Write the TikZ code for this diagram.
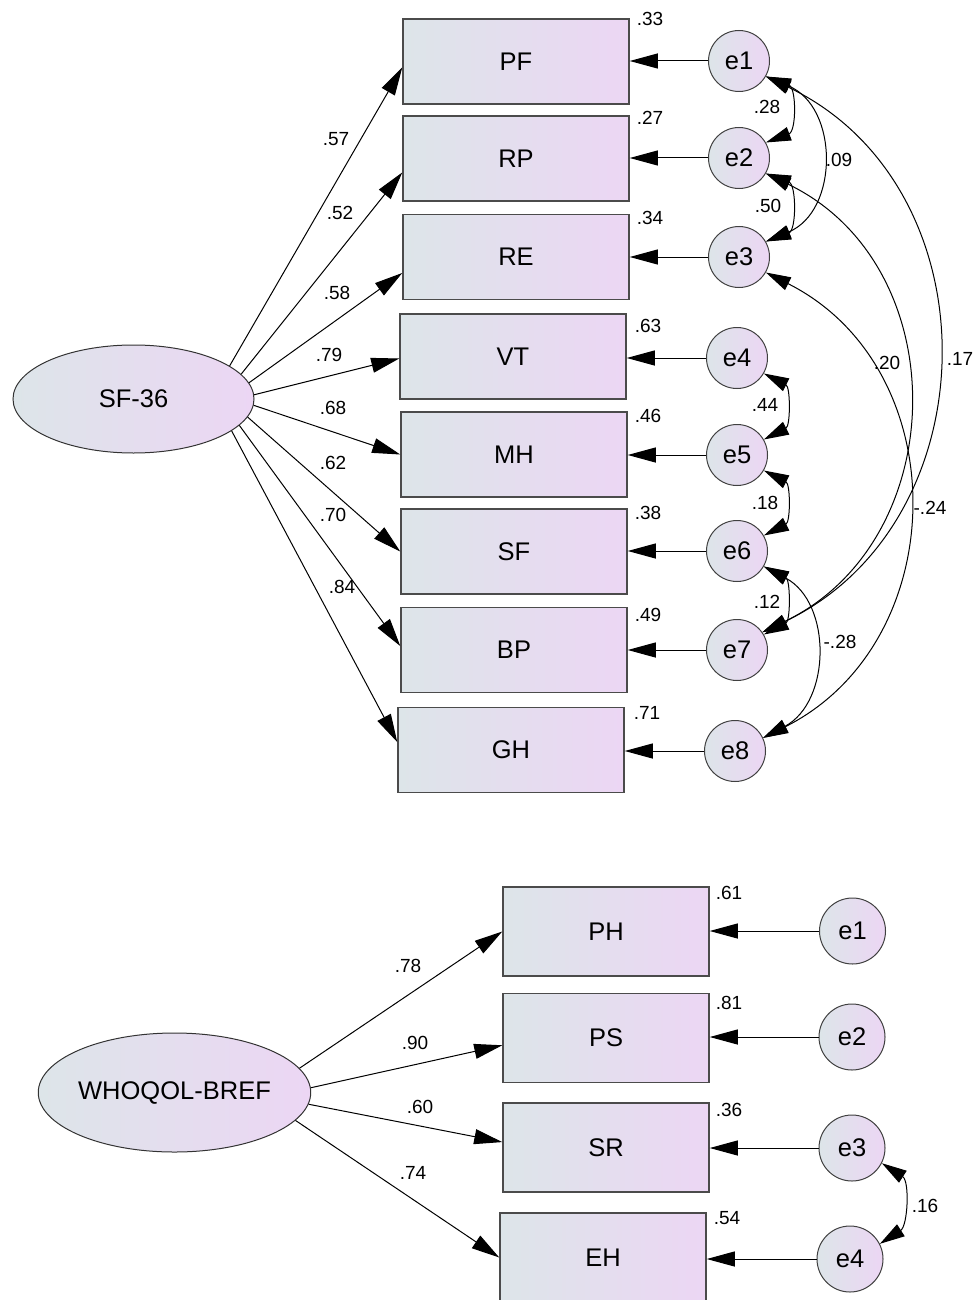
\documentclass[tikz,border=0pt]{standalone}
\usepackage{fontspec}
\setmainfont{Liberation Sans}
\usetikzlibrary{arrows.meta,shapes.geometric}
\definecolor{shL}{RGB}{221,229,233}
\definecolor{shR}{RGB}{236,214,244}
\definecolor{edgegray}{RGB}{75,75,75}
\begin{document}
\begin{tikzpicture}[x=1pt,y=1pt,
  obsbox/.style={rectangle, draw=edgegray, line width=1.5pt, left color=shL, right color=shR,
    minimum width=226pt, minimum height=85pt, inner sep=0pt, font=\fontsize{25.5}{30}\selectfont},
  obsboxb/.style={obsbox, minimum width=206pt, minimum height=89pt},
  latent/.style={ellipse, draw=black!80, line width=1pt, left color=shL, right color=shR,
    inner sep=0pt, font=\fontsize{25.5}{30}\selectfont},
  errc/.style={circle, draw=black!75, line width=1pt, left color=shL, right color=shR,
    inner sep=0pt, minimum size=61pt, font=\fontsize{25.5}{30}\selectfont},
  errcb/.style={errc, minimum size=66pt},
  numlab/.style={font=\fontsize{19}{21}\selectfont, inner sep=0pt},
  conn/.style={line width=1pt, black},
  pathar/.style={-{Triangle[length=28pt,width=15pt]}},
  covar/.style={{Triangle[length=25pt,width=14pt]}-{Triangle[length=25pt,width=14pt]}},
]
\useasboundingbox (0,0) rectangle (974,-1300);

% ---------------- SF-36 model ----------------
\node[latent, minimum width=241pt, minimum height=108pt] (sf) at (133.5,-399) {SF-36};

\node[obsbox] (pf)  at (516,-61.5)  {PF};
\node[obsbox] (rp)  at (516,-158.5) {RP};
\node[obsbox] (re)  at (516,-257)   {RE};
\node[obsbox] (vt)  at (513,-356.5) {VT};
\node[obsbox] (mh)  at (514,-454.5) {MH};
\node[obsbox] (sfb) at (514,-551.5) {SF};
\node[obsbox] (bp)  at (514,-650)   {BP};
\node[obsbox] (gh)  at (511,-750)   {GH};

\node[errc] (e1) at (739,-61)  {e1};
\node[errc] (e2) at (739,-158) {e2};
\node[errc] (e3) at (739,-257) {e3};
\node[errc] (e4) at (737,-358) {e4};
\node[errc] (e5) at (737,-455) {e5};
\node[errc] (e6) at (737,-551) {e6};
\node[errc] (e7) at (737,-650) {e7};
\node[errc] (e8) at (735,-751) {e8};

% loadings
\draw[conn,pathar] (sf.19)   -- (pf.183.3);
\draw[conn,pathar] (sf.13.9) -- (rp.187.3);
\draw[conn,pathar] (sf.8.3)  -- (re.188.1);
\draw[conn,pathar] (sf.2.4)  -- (vt.181.8);
\draw[conn,pathar] (sf.-3.8) -- (mh.180.3);
\draw[conn,pathar] (sf.-9.3) -- (sfb.180.8);
\draw[conn,pathar] (sf.-14.3) -- (bp.178.5);
\draw[conn,pathar] (sf.-18.9) -- (gh.176);

\node[numlab] (l57) at (336,-139) {.57};
\node[numlab] (l52) at (340,-213) {.52};
\node[numlab] (l58) at (337,-293) {.58};
\node[numlab] (l79) at (329,-355) {.79};
\node[numlab] (l68) at (333,-408) {.68};
\node[numlab] (l62) at (333,-463) {.62};
\node[numlab] (l70) at (333,-515) {.70};
\node[numlab] (l84) at (342,-587) {.84};

% error terms
\foreach \e/\b in {e1/pf,e2/rp,e3/re,e4/vt,e5/mh,e6/sfb,e7/bp,e8/gh}
  \draw[conn,pathar] (\e) -- (\e -| \b.east);

% squared multiple correlations
\node[numlab] (r1) at (650,-19)  {.33};
\node[numlab] (r2) at (650,-118) {.27};
\node[numlab] (r3) at (650,-218) {.34};
\node[numlab] (r4) at (648,-326) {.63};
\node[numlab] (r5) at (648,-416) {.46};
\node[numlab] (r6) at (648,-513) {.38};
\node[numlab] (r7) at (648,-615) {.49};
\node[numlab] (r8) at (647,-713) {.71};

% covariances
\draw[conn,covar] (e1.-30) .. controls +(30.6,-11.4) and +(30.6,11.4) .. (e2.30);
\draw[conn,covar] (e2.-30) .. controls +(30.6,-11.4) and +(30.6,11.4) .. (e3.30);
\draw[conn,covar] (e1.-30) .. controls +(73.2,-30.6) and +(73.2,30.6) .. (e3.30);
\draw[conn,covar] (e1.-30) .. controls +(230,-109.8) and +(230,109.8) .. (e7.35);
\draw[conn,covar] (e2.-30) .. controls +(190.6,-91.8) and +(190.6,91.8) .. (e7.35);
\draw[conn,covar] (e3.-30) .. controls +(190.6,-95.9) and +(190.6,95.9) .. (e8.25);
\draw[conn,covar] (e4.-30) .. controls +(26.7,-13.5) and +(26.7,13.5) .. (e5.30);
\draw[conn,covar] (e5.-30) .. controls +(26.7,-13.5) and +(26.7,13.5) .. (e6.30);
\draw[conn,covar] (e6.-30) .. controls +(26.7,-13.5) and +(26.7,13.5) .. (e7.30);
\draw[conn,covar] (e6.-30) .. controls +(68.2,-36.2) and +(68.2,36.2) .. (e8.25);

\node[numlab] (c12) at (767,-107) {.28};
\node[numlab] (c23) at (768,-206) {.50};
\node[numlab] (c13) at (839,-160) {.09};
\node[numlab] (c17) at (960,-359) {.17};
\node[numlab] (c27) at (887,-363) {.20};
\node[numlab] (c38) at (930,-508) {-.24};
\node[numlab] (c45) at (765,-405) {.44};
\node[numlab] (c56) at (765,-503) {.18};
\node[numlab] (c67) at (767,-602) {.12};
\node[numlab] (c68) at (840,-642) {-.28};

% ---------------- WHOQOL-BREF model ----------------
\node[latent, minimum width=265pt, minimum height=119pt] (wq) at (174.5,-1092.5) {WHOQOL-BREF};

\node[obsboxb] (ph) at (606,-931.5)  {PH};
\node[obsboxb] (ps) at (606,-1038)   {PS};
\node[obsboxb] (sr) at (606,-1147.5) {SR};
\node[obsboxb] (eh) at (603,-1257.5) {EH};

\node[errcb] (f1) at (852.5,-931) {e1};
\node[errcb] (f2) at (852,-1037)  {e2};
\node[errcb] (f3) at (852,-1148)  {e3};
\node[errcb] (f4) at (850,-1259)  {e4};

\draw[conn,pathar] (wq.11.4)  -- (ph.180);
\draw[conn,pathar] (wq.2.8)   -- (ps.184.4);
\draw[conn,pathar] (wq.-5)    -- (sr.177.5);
\draw[conn,pathar] (wq.-13.5) -- (eh.180);

\node[numlab] (m78) at (408,-966)  {.78};
\node[numlab] (m90) at (415,-1043) {.90};
\node[numlab] (m60) at (420,-1107) {.60};
\node[numlab] (m74) at (413,-1173) {.74};

\foreach \e/\b in {f1/ph,f2/ps,f3/sr,f4/eh}
  \draw[conn,pathar] (\e) -- (\e -| \b.east);

\node[numlab] (q1) at (729,-893)  {.61};
\node[numlab] (q2) at (729,-1003) {.81};
\node[numlab] (q3) at (729,-1110) {.36};
\node[numlab] (q4) at (727,-1218) {.54};

\draw[conn,covar] (f3.-27) .. controls +(28,-18) and +(28,18) .. (f4.27);
\node[numlab] (c34) at (925,-1206) {.16};
\end{tikzpicture}
\end{document}
